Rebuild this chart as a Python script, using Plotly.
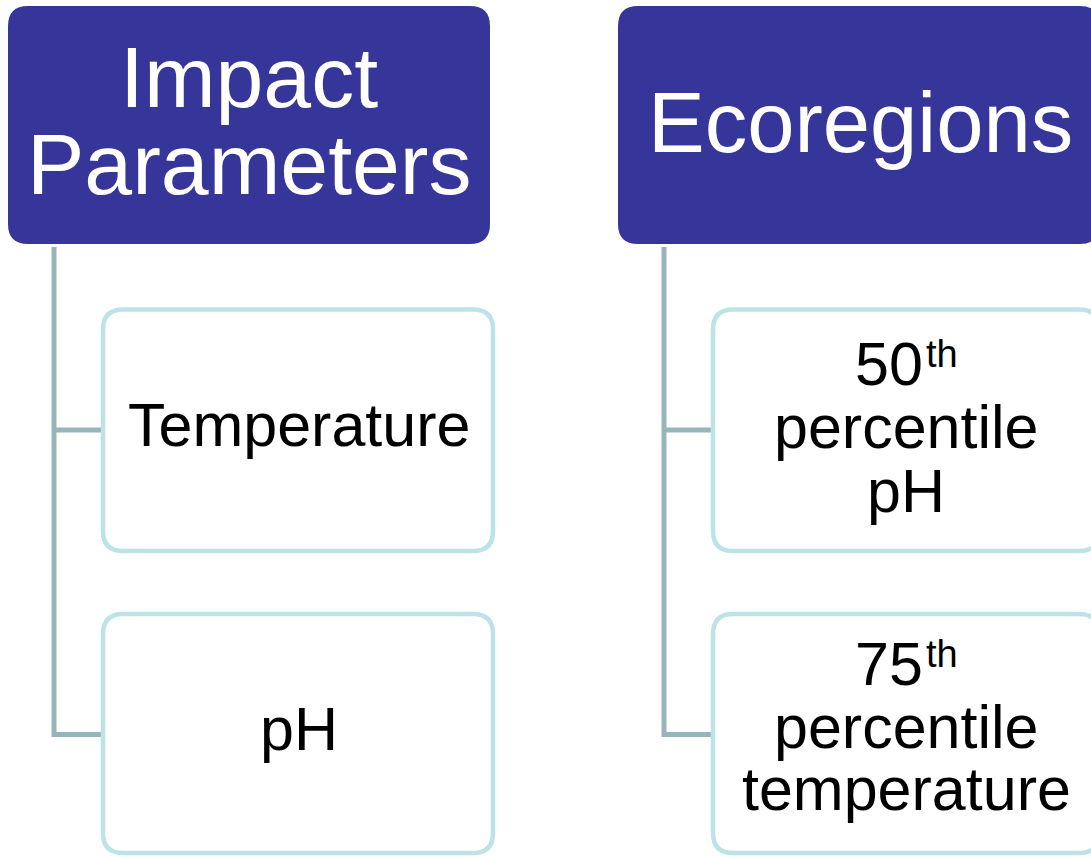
import plotly.graph_objects as go

# ---- content ----
header_labels = ["Impact Parameters", "Ecoregions"]
impact_children = ["Temperature", "pH"]
eco_percentiles = ["50", "75"]
eco_suffix = "th"
eco_word = "percentile"
eco_params = ["pH", "temperature"]

# ---- styles ----
FONT = "Liberation Sans, Arial, sans-serif"
HEADER_FILL = "#36359A"
CHILD_LINE = "#BDE3E6"
CONN = "#98B5B9"
W, H = 1091, 857

fig = go.Figure()
shapes = []
annotations = []


def rrect(x0, y0, x1, y1, r):
    return (f"M {x0+r},{y0} L {x1-r},{y0} Q {x1},{y0} {x1},{y0+r} "
            f"L {x1},{y1-r} Q {x1},{y1} {x1-r},{y1} L {x0+r},{y1} "
            f"Q {x0},{y1} {x0},{y1-r} L {x0},{y0+r} Q {x0},{y0} {x0+r},{y0} Z")


def text(x, baseline, size, txt, color="black", xanchor="center"):
    annotations.append(dict(
        x=x, y=baseline - 0.3465 * size, xref="x", yref="y",
        text=txt, showarrow=False, xanchor=xanchor, yanchor="middle",
        font=dict(family=FONT, size=size, color=color)))


cols = [
    dict(hx=(8, 490), cx=54, bx=(103, 493)),
    dict(hx=(618, 1100), cx=664, bx=(713, 1099)),
]
header_y = (6, 244)
child_y = [(309.5, 551), (614, 853)]
conn_y = [430, 734.5]

for c in cols:
    shapes.append(dict(type="path",
                       path=f"M {c['cx']},247 L {c['cx']},{conn_y[1]} L {c['bx'][0]},{conn_y[1]}",
                       line=dict(color=CONN, width=5), xref="x", yref="y", layer="below"))
    shapes.append(dict(type="line", x0=c['cx'], x1=c['bx'][0], y0=conn_y[0], y1=conn_y[0],
                       line=dict(color=CONN, width=5), xref="x", yref="y", layer="below"))
    shapes.append(dict(type="path", path=rrect(c['hx'][0], header_y[0], c['hx'][1], header_y[1], 20),
                       fillcolor=HEADER_FILL, line=dict(width=0), xref="x", yref="y"))
    for (y0, y1) in child_y:
        shapes.append(dict(type="path", path=rrect(c['bx'][0], y0, c['bx'][1], y1, 20),
                           fillcolor="white", line=dict(color=CHILD_LINE, width=4.5),
                           xref="x", yref="y"))

hw = header_labels[0].split(" ")
text(249, 107, 86, hw[0], "white")
text(249, 194, 86, hw[1], "white")
text(860, 152, 85, header_labels[1], "white")

text(299, 446, 61, impact_children[0])
text(299, 750, 61, impact_children[1])

eco_base = [(385, 448, 512), (685, 748, 810)]
for pct, param, (b1, b2, b3) in zip(eco_percentiles, eco_params, eco_base):
    text(925, b1, 61, pct, xanchor="right")
    text(924, b1 - 18, 38, eco_suffix, xanchor="left")
    text(906, b2, 61, eco_word)
    text(906, b3, 61, param)

fig.update_layout(
    width=W, height=H, margin=dict(l=0, r=0, t=0, b=0),
    paper_bgcolor="white", plot_bgcolor="white",
    xaxis=dict(range=[0, W], visible=False, fixedrange=True),
    yaxis=dict(range=[H, 0], visible=False, fixedrange=True),
    shapes=shapes, annotations=annotations, showlegend=False,
)

fig.write_html(
    "out.html",
    config={"displayModeBar": False},
    post_script="document.body.style.margin='0';document.body.style.overflow='hidden';",
)
